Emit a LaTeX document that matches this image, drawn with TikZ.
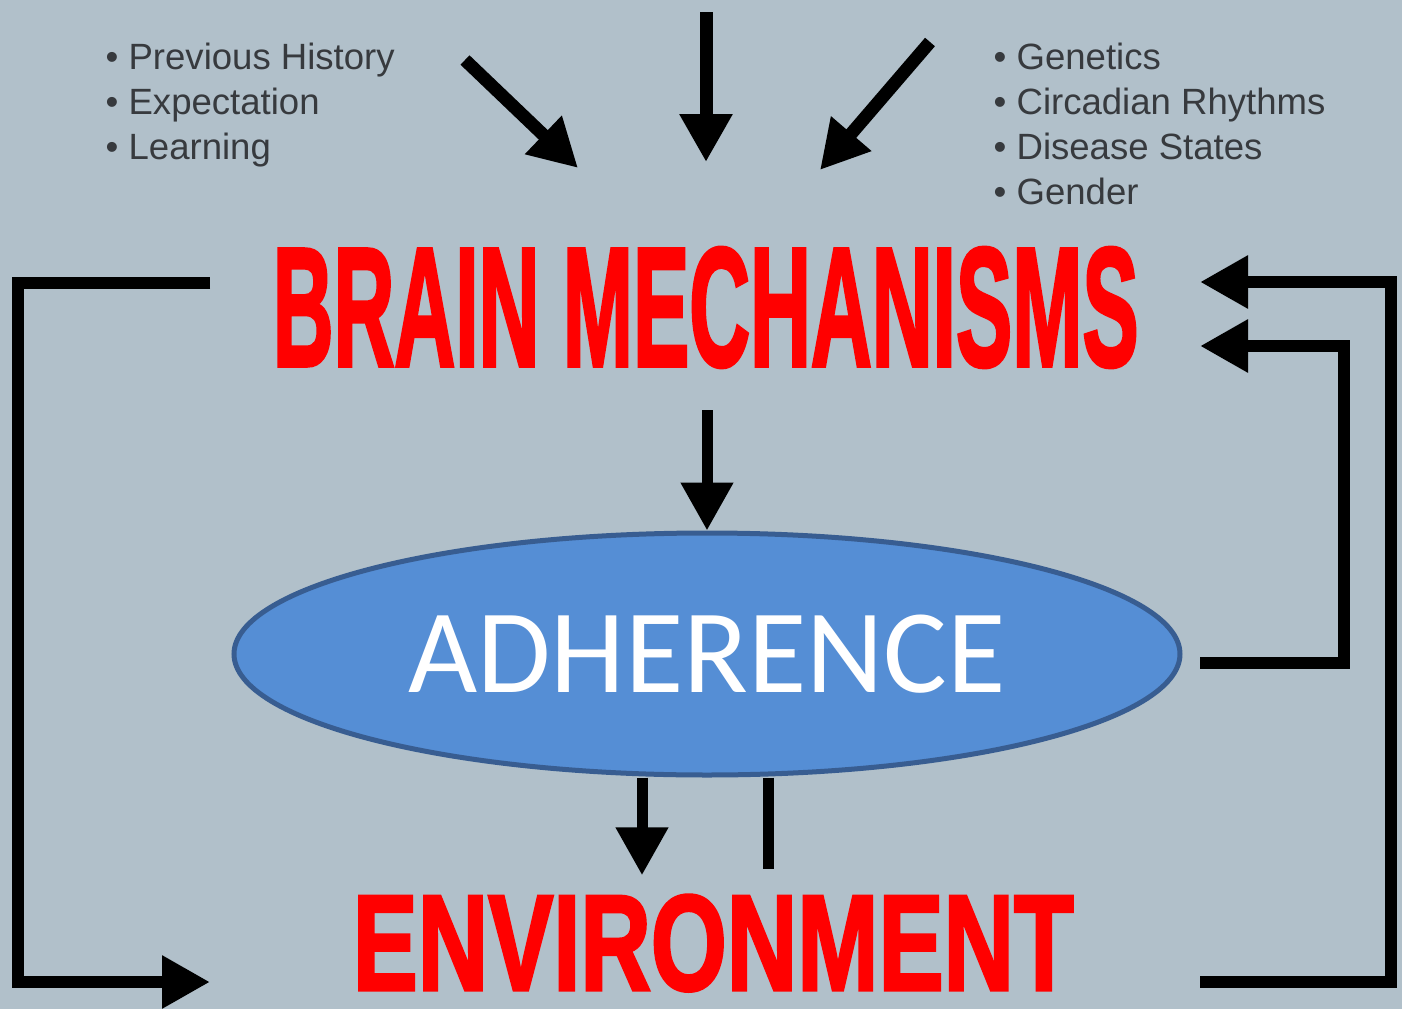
\documentclass[tikz,border=0pt]{standalone}
\usepackage{fontspec}
\usepackage{graphicx}
\setmainfont{Liberation Sans}
\newfontfamily\calibrifont{Carlito}
\newfontfamily\heavyfont[FakeBold=2.5]{Liberation Sans Bold}
\usetikzlibrary{positioning, arrows.meta, shapes.geometric, calc}
\definecolor{panel}{RGB}{177,192,202}
\definecolor{adhfill}{RGB}{85,142,213}
\definecolor{adhline}{RGB}{56,93,145}
\definecolor{listgray}{RGB}{55,58,62}
\newcommand{\Headline}[3]{\resizebox{#2}{#3}{\heavyfont #1}}
\tikzset{
    bigtip/.style={-{Triangle[length=0.48cm, width=0.5cm]}},
    inflow/.style={line width=0.13cm, bigtip},
    flow/.style={line width=0.11cm},
    feed/.style={line width=0.12cm},
    title/.style={inner sep=0, text=red, anchor=south west},
    factors/.style={inner sep=0, anchor=north west, align=left, text=listgray,
      font=\fontsize{10.4}{12.8}\selectfont},
}

\begin{document}
\begin{tikzpicture}
    \fill[panel] (0,0) rectangle (14.02,10.09);
    \useasboundingbox (0,0) rectangle (14.02,10.09);

    \node[title] (brain) at (2.72,6.41) {\Headline{BRAIN MECHANISMS}{8.66cm}{1.18cm}};
    \node[ellipse, draw=adhline, line width=0.05cm, fill=adhfill, minimum width=9.46cm,
      minimum height=2.42cm, inner sep=0, text=white,
      font=\calibrifont\fontsize{34}{40}\selectfont] (adh) at (7.07,3.55) {ADHERENCE};
    \node[title] (env) at (3.52,0.17) {\Headline{ENVIRONMENT}{7.21cm}{0.95cm}};

    % factor lists
    \node[factors] (psych) at (1.05,9.67) {• Previous History\\ • Expectation\\ • Learning};
    \node[factors] (bio) at (9.93,9.67) {• Genetics\\ • Circadian Rhythms\\ • Disease States\\ • Gender};

    % inputs from above
    \coordinate (psyin) at (4.65,9.49);
    \coordinate (psyhit) at (5.78,8.41);
    \coordinate (topin) at (7.06,9.97);
    \coordinate (tophit) at (7.06,8.47);
    \coordinate (bioin) at (9.30,9.67);
    \coordinate (biohit) at (8.20,8.39);
    \draw[inflow] (psyin) -- (psyhit);
    \draw[inflow] (topin) -- (tophit);
    \draw[inflow] (bioin) -- (biohit);

    \draw[flow, bigtip, shorten <=0.42cm] (brain.south -| adh.north) -- (adh.north);
    \draw[flow, bigtip, shorten >=0.19cm] ([xshift=-0.65cm]adh.south) -- ([xshift=-0.65cm]adh.south |- env.north);
    \draw[flow, shorten >=0.25cm] ([xshift=0.61cm]adh.south) -- ([xshift=0.61cm]adh.south |- env.north);

    % feedback loops
    \coordinate (brainout) at (2.10,7.26);
    \coordinate (envin) at (2.10,0.27);
    \coordinate (envout) at (12.00,0.27);
    \coordinate (brainin) at (12.00,7.27);
    \coordinate (adhout) at (12.00,3.46);
    \coordinate (brainin2) at (12.00,6.63);
    \draw[feed, bigtip] (brainout) -- (0.18,7.26) -- (0.18,0.27) -- (envin);
    \draw[feed, bigtip] (envout) -- (13.91,0.27) -- (13.91,7.27) -- (brainin);
    \draw[feed, bigtip] (adhout) -- (13.44,3.46) -- (13.44,6.63) -- (brainin2);
\end{tikzpicture}
\end{document}
